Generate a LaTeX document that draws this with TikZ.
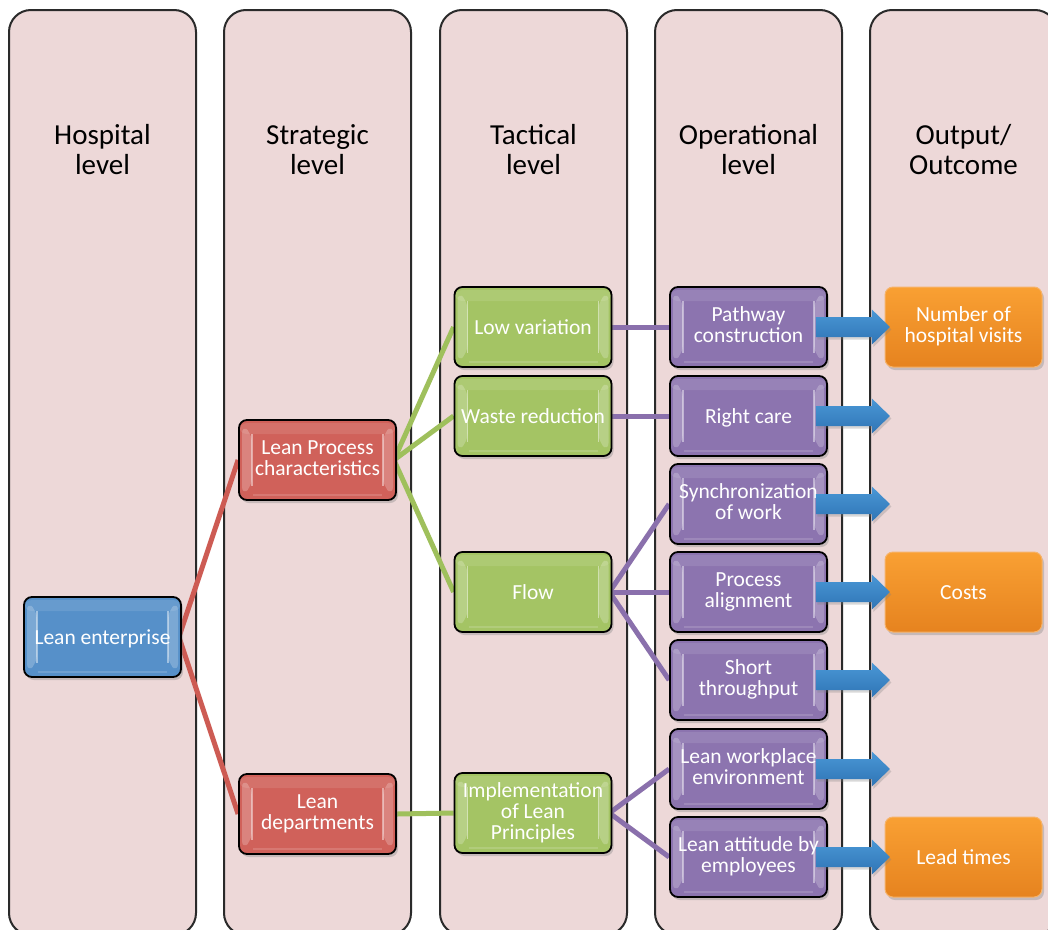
\documentclass[tikz,border=0pt]{standalone}
\usepackage{fontspec}
\setmainfont{Carlito}
\usetikzlibrary{shadows,calc}

\definecolor{lanefill}{HTML}{EDD8D8}
\definecolor{laneedge}{HTML}{2A2A2A}
\definecolor{entblue}{HTML}{5690C9}
\definecolor{stratred}{HTML}{D0615A}
\definecolor{tacgreen}{HTML}{A4C464}
\definecolor{oppurple}{HTML}{8C74AF}
\definecolor{orangetop}{HTML}{F9A033}
\definecolor{orangebot}{HTML}{E6831F}
\definecolor{orangeedge}{HTML}{F6B36A}
\definecolor{arrowtop}{HTML}{4A98D6}
\definecolor{arrowbot}{HTML}{2F74B5}
\definecolor{linkred}{HTML}{CD5B53}
\definecolor{linkgreen}{HTML}{9FC05C}
\definecolor{linkpurple}{HTML}{8A70AC}

\pgfdeclarelayer{lanes}
\pgfdeclarelayer{links}
\pgfsetlayers{lanes,links,main}

\tikzset{
  lane/.style={draw=laneedge, line width=2pt, fill=lanefill, rounded corners=22pt},
  lanetitle/.style={align=center, text=black, font=\fontsize{29}{30}\selectfont},
  % fixed first-line height and last-line depth keep the labels evenly centred
  boxtext/.style={text=white, align=center, font=\fontsize{21.5}{21}\selectfont,
    execute at begin node={\rule{0pt}{20pt}},
    execute at end node={\rule[-4.6pt]{0pt}{4.6pt}}},
  bevel/.style={path picture={
    \coordinate (ppnw) at (path picture bounding box.north west);
    \coordinate (ppsw) at (path picture bounding box.south west);
    \coordinate (ppne) at (path picture bounding box.north east);
    \coordinate (ppse) at (path picture bounding box.south east);
    % soft top gloss
    \fill[white, opacity=.10] ($(ppnw)+(0pt,-3pt)$) rectangle ($(ppne)+(0pt,-14pt)$);
    % left bevel
    \fill[white, opacity=.22] ($(ppnw)+(3pt,-5pt)$) -- ($(ppnw)+(13pt,-14pt)$)
      -- ($(ppsw)+(13pt,14pt)$) -- ($(ppsw)+(3pt,5pt)$) -- cycle;
    \draw[white, opacity=.45, line width=1.2pt] ($(ppnw)+(13pt,-14pt)$) -- ($(ppsw)+(13pt,14pt)$);
    % right bevel
    \fill[white, opacity=.22] ($(ppne)+(-3pt,-5pt)$) -- ($(ppne)+(-13pt,-14pt)$)
      -- ($(ppse)+(-13pt,14pt)$) -- ($(ppse)+(-3pt,5pt)$) -- cycle;
    \draw[white, opacity=.45, line width=1.2pt] ($(ppne)+(-13pt,-14pt)$) -- ($(ppse)+(-13pt,14pt)$);
    % bottom sheen
    \draw[white, opacity=.15, line width=2pt] ($(ppsw)+(14pt,5pt)$) -- ($(ppse)+(-14pt,5pt)$);
  }},
  box/.style={boxtext, draw=black, line width=1.8pt, rounded corners=8pt,
    minimum width=157pt, minimum height=80pt, inner sep=0pt,
    drop shadow={opacity=.35, shadow xshift=2pt, shadow yshift=-3pt}, bevel},
  entbox/.style={box, fill=entblue},
  stratbox/.style={box, fill=stratred},
  tacbox/.style={box, fill=tacgreen},
  opbox/.style={box, fill=oppurple},
  outbox/.style={boxtext, draw=orangeedge, line width=1pt, rounded corners=8pt,
    top color=orangetop, bottom color=orangebot,
    minimum width=157pt, minimum height=80pt, inner sep=0pt,
    drop shadow={opacity=.35, shadow xshift=2pt, shadow yshift=-3pt}},
  link/.style={line width=5pt},
  redlink/.style={link, draw=linkred},
  greenlink/.style={link, draw=linkgreen},
  purplelink/.style={link, draw=linkpurple},
  outarrow/.style={top color=arrowtop, bottom color=arrowbot,
    drop shadow={opacity=.3, shadow xshift=1.5pt, shadow yshift=-2.5pt}},
}

% block arrow leaving an operational box to the right
\newcommand\resultarrow[1]{%
  \path[outarrow] ($(#1.east)+(-12pt,10pt)$) -- ++(56pt,0pt) -- ++(0pt,7.5pt)
    -- ++(18pt,-17.5pt) -- ++(-18pt,-17.5pt) -- ++(0pt,7.5pt) -- ++(-56pt,0pt) -- cycle;}

\begin{document}
\begin{tikzpicture}[x=1pt, y=-1pt]
  \clip (0,0) rectangle (1048,929);
  \begin{pgfonlayer}{lanes}
    \fill[white] (0,0) rectangle (1048,929);
    % swim lanes
    \path[lane] (9,10) rectangle (196,935);
    \path[lane] (224,10) rectangle (411,935);
    \path[lane] (440,10) rectangle (627,935);
    \path[lane] (655,10) rectangle (842,935);
    \path[lane] (870,10) rectangle (1057,935);
  \end{pgfonlayer}

  \node[lanetitle] (thosp) at (102.5,150) {Hospital\\level};
  \node[lanetitle] (tstrat) at (317.5,150) {Strategic\\level};
  \node[lanetitle] (ttac) at (533.5,150) {Tactical\\level};
  \node[lanetitle] (top) at (748.5,150) {Operational\\level};
  \node[lanetitle] (tout) at (963.5,150) {Output/\\Outcome};

  % hospital level
  \node[entbox] (ent) at (102.5,637) {Lean enterprise};
  % strategic level
  \node[stratbox] (char) at (317.5,460) {Lean Process\\characteristics};
  \node[stratbox] (dept) at (317.5,814) {Lean\\departments};
  % tactical level
  \node[tacbox] (lowvar) at (533,327) {Low variation};
  \node[tacbox] (waste) at (533,416) {Waste reduction};
  \node[tacbox] (flow) at (533,592) {Flow};
  \node[tacbox] (impl) at (533,813) {Implementation\\of Lean\\Principles};
  % operational level
  \node[opbox] (path) at (748.5,327) {Pathway\\construction};
  \node[opbox] (care) at (748.5,416) {Right care};
  \node[opbox] (sync) at (748.5,504) {Synchronization\\of work};
  \node[opbox] (align) at (748.5,592) {Process\\alignment};
  \node[opbox] (short) at (748.5,680) {Short\\throughput};
  \node[opbox] (work) at (748.5,769) {Lean workplace\\environment};
  \node[opbox] (att) at (748.5,857) {Lean attitude by\\employees};
  % outcomes
  \node[outbox] (visits) at (963.5,327) {Number of\\hospital visits};
  \node[outbox] (costs) at (963.5,592) {Costs};
  \node[outbox] (lead) at (963.5,857) {Lead times};

  % connectors, kept beneath the boxes
  \begin{pgfonlayer}{links}
    \draw[redlink] ($(ent.east)+(-3pt,0pt)$) -- (char.west);
    \draw[redlink] ($(ent.east)+(-3pt,0pt)$) -- (dept.west);
    \draw[greenlink] ($(char.east)+(-3pt,0pt)$) -- (lowvar.west);
    \draw[greenlink] ($(char.east)+(-3pt,0pt)$) -- (waste.west);
    \draw[greenlink] ($(char.east)+(-3pt,0pt)$) -- (flow.west);
    \draw[greenlink] (dept.east) -- (impl.west);
    \draw[purplelink] (lowvar.east) -- (path.west);
    \draw[purplelink] (waste.east) -- (care.west);
    \draw[purplelink] ($(flow.east)+(-3pt,0pt)$) -- (sync.west);
    \draw[purplelink] ($(flow.east)+(-3pt,0pt)$) -- (align.west);
    \draw[purplelink] ($(flow.east)+(-3pt,0pt)$) -- (short.west);
    \draw[purplelink] ($(impl.east)+(-3pt,0pt)$) -- (work.west);
    \draw[purplelink] ($(impl.east)+(-3pt,0pt)$) -- (att.west);
  \end{pgfonlayer}

  % result arrows
  \resultarrow{path}
  \resultarrow{care}
  \resultarrow{sync}
  \resultarrow{align}
  \resultarrow{short}
  \resultarrow{work}
  \resultarrow{att}
\end{tikzpicture}
\end{document}
